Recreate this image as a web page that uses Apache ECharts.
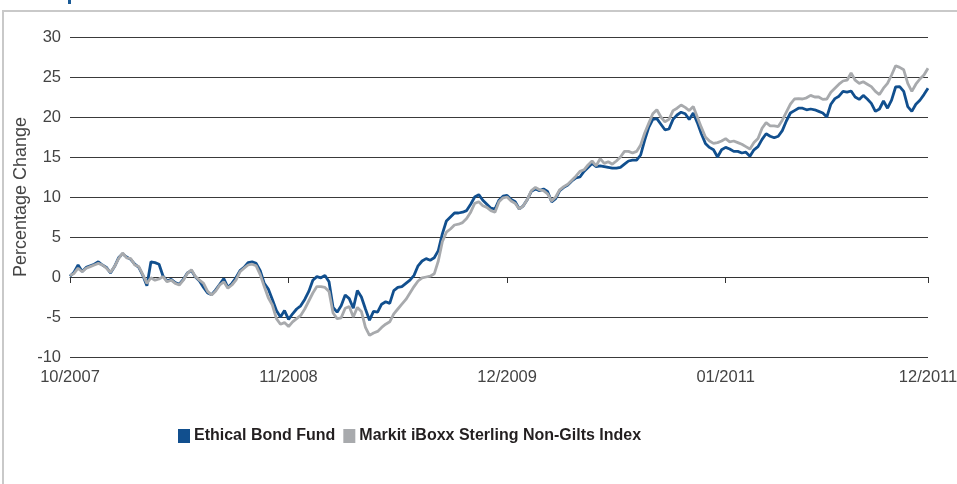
<!DOCTYPE html>
<html>
<head>
<meta charset="utf-8">
<script src="https://cdn.jsdelivr.net/npm/echarts@6/dist/echarts.min.js"></script>
<style>
html,body{margin:0;padding:0;background:#fff;}
#chart{width:957px;height:484px;}
</style>
</head>
<body>
<div id="chart"></div>
<script>
var seriesNames = ['Ethical Bond Fund', 'Markit iBoxx Sterling Non-Gilts Index'];
var tickLabels = ['10/2007', '11/2008', '12/2009', '01/2011', '12/2011'];
var tickIndex = [0, 54, 108, 162, 212];

var fundValues = [
 0.1, 0.6, 1.5, 0.7, 1.2, 1.4, 1.6, 1.9, 1.5, 1.2, 0.5, 1.3, 2.4, 2.9, 2.5, 2.2, 1.6, 1.2, 0.2, -1.1,
 1.9, 1.8, 1.6, 0.1, -0.5, -0.3, -0.7, -0.9, -0.3, 0.5, 0.8, 0.0, -0.5, -1.3, -2.0, -2.2, -1.6, -0.9, -0.2, -1.3,
 -0.8, -0.1, 0.8, 1.2,
 1.8, 1.9, 1.7, 0.8, -0.8, -1.5, -2.8, -4.2, -5.0, -4.2, -5.3, -4.6, -4.0, -3.6, -2.8, -1.8, -0.4, 0.05, -0.1, 0.2,
 -0.6, -3.8, -4.4, -3.6, -2.25, -2.7, -3.9, -1.7, -2.5, -4.0, -5.4, -4.3, -4.4, -3.4, -3.1, -3.3, -1.7, -1.3, -1.2, -0.8,
 -0.4, 0.2, 1.4,
 2.0, 2.3, 2.1, 2.4, 3.3, 5.4, 7.0, 7.5, 8.0, 8.0, 8.1, 8.3, 9.1, 10.0, 10.3, 9.6, 9.1, 8.6, 8.5, 9.6,
 10.1, 10.2, 9.7, 9.4, 8.5, 8.9, 9.7, 10.7, 11.0, 10.8, 11.0, 10.7, 9.4, 9.8, 10.8, 11.2, 11.5, 12.0, 12.4, 12.5,
 13.2, 13.7, 14.2,
 13.8, 13.9, 13.8, 13.7, 13.6, 13.6, 13.7, 14.1, 14.5, 14.6, 14.6, 15.25, 17.1, 18.7, 19.7, 19.8, 19.1, 18.4, 18.5, 19.7,
 20.25, 20.6, 20.4, 19.7, 20.5, 19.3, 17.9, 16.7, 16.2, 15.9, 15.0, 15.9, 16.2, 16.0, 15.7, 15.7, 15.5, 15.6, 15.1, 15.9,
 16.3, 17.2, 17.9, 17.6,
 17.4, 17.6, 18.3, 19.5, 20.5, 20.8, 21.1, 21.1, 20.9, 21.0, 20.9, 20.7, 20.5, 20.0, 21.6, 22.3, 22.6, 23.2, 23.1, 23.25,
 22.5, 22.2, 22.7, 22.25, 21.7, 20.7, 21.0, 22.0, 21.1, 22.1, 23.75, 23.8, 23.2, 21.3, 20.7, 21.6, 22.1, 22.8, 23.6
];

var indexValues = [
 0.2, 0.45, 1.1, 0.65, 1.1, 1.3, 1.5, 1.7, 1.5, 1.1, 0.6, 1.3, 2.3, 3.0, 2.4, 2.3, 1.5, 1.3, 0.3, -0.8,
 -0.1, -0.4, -0.25, 0.05, -0.6, -0.4, -0.8, -1.0, -0.4, 0.45, 0.9, 0.05, -0.4, -0.8, -1.8, -2.25, -1.75, -1.0, -0.6, -1.4,
 -1.0, -0.4, 0.65, 1.1,
 1.5, 1.6, 1.4, 0.3, -1.2, -2.6, -3.5, -5.2, -5.9, -5.7, -6.2, -5.6, -5.2, -4.8, -4.0, -3.0, -2.0, -1.2, -1.2, -1.3,
 -1.8, -4.5, -5.2, -5.1, -3.9, -3.7, -5.0, -3.8, -4.3, -6.3, -7.3, -7.0, -6.8, -6.3, -5.9, -5.6, -4.6, -4.0, -3.4, -2.8,
 -2.0, -1.2, -0.5,
 -0.1, 0.0, 0.1, 0.4, 2.0, 4.4, 5.6, 6.0, 6.5, 6.6, 6.8, 7.3, 8.1, 9.2, 9.4, 8.9, 8.7, 8.3, 8.1, 9.4,
 9.9, 10.0, 9.5, 9.2, 8.5, 8.9, 9.7, 10.8, 11.2, 10.9, 10.8, 10.4, 9.5, 10.0, 10.9, 11.3, 11.6, 12.1, 12.6, 13.2,
 13.4, 14.0, 14.5,
 13.9, 14.8, 14.2, 14.4, 14.1, 14.5, 15.0, 15.7, 15.7, 15.5, 15.7, 16.5, 18.0, 19.2, 20.4, 20.9, 20.0, 19.4, 19.7, 20.8,
 21.1, 21.5, 21.2, 20.8, 21.3, 20.0, 18.7, 17.5, 17.0, 16.7, 16.8, 17.0, 17.3, 16.9, 17.0, 16.8, 16.6, 16.3, 16.0, 16.8,
 17.3, 18.6, 19.3, 18.9,
 18.9, 18.8, 19.6, 20.6, 21.6, 22.25, 22.3, 22.25, 22.4, 22.7, 22.5, 22.5, 22.2, 22.25, 23.1, 23.6, 24.1, 24.5, 24.6, 25.5,
 24.6, 24.2, 24.4, 24.1, 23.8, 23.2, 22.8, 23.6, 24.2, 25.25, 26.4, 26.2, 25.9, 24.2, 23.2, 24.1, 24.75, 25.25, 26.1
];

var categories = fundValues.map(function (v, i) {
  var k = tickIndex.indexOf(i);
  return k >= 0 ? tickLabels[k] : '';
});
function isTick(i) { return tickIndex.indexOf(i) >= 0; }

var chart = echarts.init(document.getElementById('chart'), null, {renderer: 'canvas'});
var font = '"Liberation Sans", Arial, Helvetica, sans-serif';
chart.setOption({
  animation: false,
  backgroundColor: '#ffffff',
  graphic: [
    {type: 'rect', shape: {x: 3, y: 11, width: 1100, height: 600},
     style: {fill: 'none', stroke: '#c9c9c9', lineWidth: 2}, silent: true},
    {type: 'rect', shape: {x: 68, y: 0, width: 3, height: 4},
     style: {fill: '#1a5a96'}, silent: true}
  ],
  grid: {left: 70, right: 29, top: 37, bottom: 127, containLabel: false, outerBoundsMode: 'none'},
  legend: {
    left: 178, top: 428, padding: 0,
    itemWidth: 12, itemHeight: 14, itemGap: 8,
    icon: 'rect',
    textStyle: {fontFamily: font, fontSize: 16, fontWeight: 'bold', color: '#231f20', padding: [0, 0, 0, -1]},
    data: seriesNames
  },
  xAxis: {
    type: 'category',
    boundaryGap: false,
    data: categories,
    axisLine: {show: true, lineStyle: {color: '#333333', width: 1}},
    axisTick: {show: true, length: 6, interval: function (i) { return isTick(i); }, lineStyle: {color: '#333333'}},
    axisLabel: {show: true, interval: function (i) { return isTick(i); }, margin: 12,
      fontFamily: font, fontSize: 16.5, color: '#444444'},
    splitLine: {show: false}
  },
  yAxis: {
    type: 'value',
    min: -10, max: 30, interval: 5,
    name: 'Percentage Change',
    nameLocation: 'middle',
    nameGap: 40,
    nameMoveOverlap: false,
    nameRotate: 90,
    nameTextStyle: {fontFamily: font, fontSize: 18, color: '#444444'},
    axisLine: {show: false},
    axisTick: {show: false},
    axisLabel: {margin: 9, fontFamily: font, fontSize: 16.5, color: '#444444'},
    splitLine: {show: true, lineStyle: {color: '#3a3a3a', width: 1}}
  },
  series: [
    {name: seriesNames[0], type: 'line', data: fundValues, showSymbol: false, symbol: 'none',
     itemStyle: {color: '#114f8e'}, lineStyle: {color: '#114f8e', width: 2.8}, z: 2},
    {name: seriesNames[1], type: 'line', data: indexValues, showSymbol: false, symbol: 'none',
     itemStyle: {color: '#a8aaad'}, lineStyle: {color: '#a8aaad', width: 2.8}, z: 3}
  ]
});
</script>
</body>
</html>
